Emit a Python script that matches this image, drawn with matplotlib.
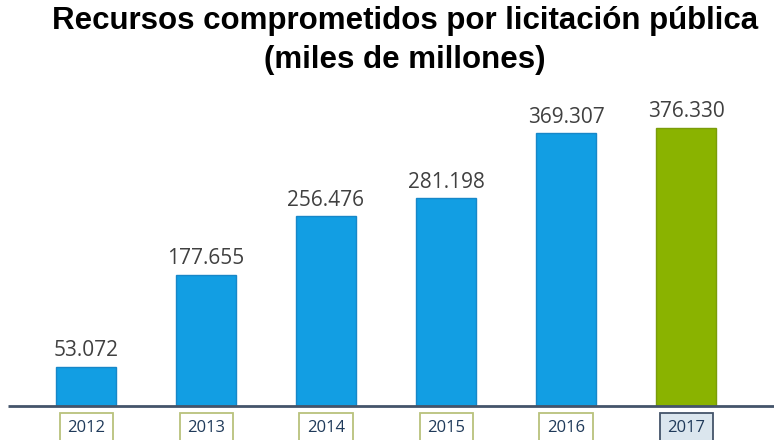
import matplotlib
matplotlib.use("Agg")
import matplotlib.pyplot as plt

years = ["2012", "2013", "2014", "2015", "2016", "2017"]
values = [53.072, 177.655, 256.476, 281.198, 369.307, 376.330]
labels = ["53.072", "177.655", "256.476", "281.198", "369.307", "376.330"]

blue = "#129ee3"
green = "#8ab300"
bar_colors = [blue] * 5 + [green]
edge_colors = ["#1787c8"] * 5 + ["#7a9c0a"]

W, H = 774, 440
fig = plt.figure(figsize=(W / 100, H / 100), dpi=100)

# axes spanning the full width; baseline at pixel row 406
ax_bottom = 1 - 406 / H
ax_top = 1 - 90 / H
ax = fig.add_axes([0, ax_bottom, 1, ax_top - ax_bottom])
px_per_x = 120.0
x0 = 86.0
ax.set_xlim((0 - x0) / px_per_x, (W - x0) / px_per_x)
px_per_unit = 0.739
ax.set_ylim(0, (ax_top - ax_bottom) * H / px_per_unit)

xs = list(range(len(years)))
ax.bar(xs, values, width=0.5, color=bar_colors, edgecolor=edge_colors, linewidth=1.0, zorder=2)

for x, v, lab in zip(xs, values, labels):
    ax.annotate(lab, (x, v), xytext=(0, 4), textcoords="offset points",
                ha="center", va="bottom", fontsize=15, color="#404040",
                family="Open Sans")

for s in ax.spines.values():
    s.set_visible(False)
ax.set_xticks([])
ax.set_yticks([])

# baseline
ax.plot([(8 - x0) / px_per_x, (W - x0) / px_per_x], [0, 0], color="#44546a",
        linewidth=2.0, zorder=3, clip_on=False, solid_capstyle="butt")

# boxed year labels below the baseline
for i, yr in enumerate(years):
    last = i == len(years) - 1
    fc = "#dbe6ee" if last else "white"
    ec = "#44546a" if last else "#b9c27c"
    ax.annotate(yr, (i, 0), xytext=(0, -16), textcoords="offset points",
                ha="center", va="center", fontsize=12, color="#1f3a5a",
                family="Open Sans", annotation_clip=False,
                bbox=dict(boxstyle="square,pad=0.45", fc=fc, ec=ec, lw=1.3))

fig.text(405 / W, 1 - 21 / H, "Recursos comprometidos por licitación pública",
         ha="center", va="center", fontsize=22.5, fontweight="bold",
         family="Liberation Sans", color="black")
fig.text(405 / W, 1 - 60 / H, "(miles de millones)",
         ha="center", va="center", fontsize=22.5, fontweight="bold",
         family="Liberation Sans", color="black")

fig.savefig("out.png", dpi=100)
